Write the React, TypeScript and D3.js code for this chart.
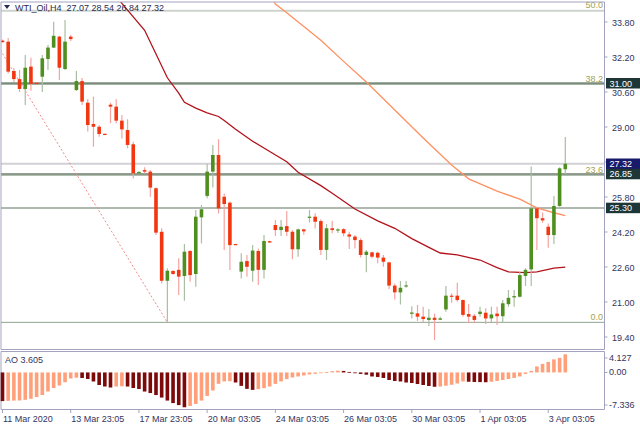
import React from 'react';
import * as d3 from 'd3';

const symbol = 'WTI_Oil,H4';
const opens = [32.95,32.90,31.56,31.19,30.74,31.76,31.02,31.30,32.11,32.63,33.13,31.65,33.13,30.69,31.10,30.11,29.14,29.01,28.69,30.02,
29.93,29.29,28.86,28.21,26.88,27.03,26.96,26.20,24.21,21.97,22.42,22.47,22.19,23.33,22.28,24.87,25.85,26.96,27.72,25.81,
25.54,23.65,22.39,22.87,22.43,23.33,22.47,23.78,24.52,24.29,24.47,24.21,23.41,24.32,24.85,24.90,24.70,23.38,24.37,24.28,
24.33,24.09,23.99,23.83,23.15,23.27,23.25,23.03,22.81,21.75,21.44,21.72,20.46,20.48,20.33,20.18,20.28,20.19,20.66,21.29,
21.29,21.09,20.45,20.37,20.45,20.51,20.25,20.47,20.35,20.90,21.21,21.24,22.19,22.49,25.28,24.83,24.44,24.06,25.39,27.07];
const highs = [33.00,33.07,31.70,31.61,32.29,32.17,31.05,32.29,32.75,33.81,33.17,33.89,33.21,31.56,31.24,30.28,30.39,29.09,28.70,30.11,
30.27,29.55,29.35,28.33,26.97,27.16,27.03,26.23,24.37,22.54,22.45,23.00,23.65,23.38,25.21,25.43,27.31,28.18,28.44,25.96,
25.59,23.66,23.23,23.15,23.61,23.45,24.06,23.80,24.75,24.75,25.16,24.29,24.35,24.35,25.21,25.06,24.78,24.57,24.71,24.37,
24.37,24.21,24.06,23.91,23.38,23.30,23.30,23.15,22.84,21.85,21.96,21.96,20.81,20.86,20.78,20.68,20.48,20.33,21.73,21.40,
21.88,21.12,20.91,20.45,20.78,20.71,20.78,20.78,21.09,21.55,21.55,22.38,22.54,27.19,25.36,25.09,24.59,25.85,27.16,28.54];
const lows = [32.85,31.45,31.06,30.60,30.01,30.66,30.96,30.60,31.61,32.61,31.15,31.61,32.93,30.65,30.01,28.79,28.10,28.56,28.66,29.17,
29.17,28.48,28.03,26.65,26.85,26.88,25.81,24.06,21.85,20.07,22.25,21.32,21.06,21.93,21.70,23.68,25.74,26.24,25.05,23.38,
22.46,23.62,22.08,22.16,21.93,21.78,22.08,23.70,24.02,24.02,24.02,22.95,23.07,24.08,24.63,24.36,23.15,22.92,24.14,24.16,
23.99,23.42,23.45,23.03,22.36,23.00,22.77,22.61,21.59,21.12,20.89,21.65,20.25,20.13,20.07,19.90,19.26,20.18,20.56,20.97,
21.01,20.33,20.03,20.03,20.33,19.99,20.03,19.95,20.05,20.78,20.78,21.21,21.73,21.73,23.38,24.62,23.48,23.65,25.36,26.84];
const closes = [32.88,31.53,31.19,30.74,31.71,30.97,30.99,32.14,32.63,33.17,31.71,32.90,33.02,31.10,30.16,29.09,29.01,28.68,28.67,29.93,
29.29,28.89,28.18,26.88,26.95,26.96,26.23,24.17,21.97,22.43,22.28,22.16,23.30,22.23,24.90,25.24,26.96,27.72,25.28,25.48,
23.60,23.64,22.84,22.61,23.35,22.47,23.79,23.72,24.29,24.44,24.21,23.41,24.32,24.23,24.90,24.67,23.38,24.37,24.29,24.32,
24.14,23.99,23.83,23.15,23.30,23.07,23.03,22.84,21.75,21.44,21.65,21.76,20.52,20.33,20.22,20.28,20.18,20.25,21.29,21.24,
21.09,20.41,20.33,20.18,20.56,20.25,20.43,20.35,20.94,21.19,21.27,22.23,22.47,25.28,24.83,24.73,24.06,25.39,27.11,27.32];

const aoValues = [-5.70,-5.65,-5.60,-5.58,-5.45,-5.25,-4.90,-4.50,-3.80,-3.10,-2.60,-1.95,-1.20,-1.05,-1.10,-1.30,-1.80,-2.50,-2.80,-3.00,
-2.80,-2.75,-2.80,-3.10,-3.30,-3.80,-4.10,-4.50,-5.00,-5.60,-6.10,-6.50,-6.93,-6.67,-6.27,-5.60,-4.67,-3.60,-2.27,-1.80,
-1.75,-2.00,-2.67,-3.27,-3.47,-3.33,-3.13,-2.80,-2.27,-1.80,-1.33,-1.00,-0.80,-0.60,-0.40,-0.27,-0.13,0.05,0.25,0.35,
0.30,0.10,-0.10,-0.30,-0.45,-0.80,-0.90,-1.10,-1.50,-1.70,-1.80,-2.00,-2.10,-2.30,-2.50,-2.70,-2.85,-2.80,-2.65,-2.45,
-2.20,-1.80,-1.85,-1.90,-1.92,-1.95,-1.85,-1.70,-1.50,-1.30,-1.10,-0.80,-0.30,0.30,1.20,1.70,2.10,2.60,2.90,3.605];

const timeTickIndex = [0, 12, 24, 36, 48, 60, 72, 84, 96];
const timeTickLabels = ['11 Mar 2020', '13 Mar 23:05', '17 Mar 23:05', '20 Mar 03:05', '24 Mar 03:05', '26 Mar 03:05', '30 Mar 03:05', '1 Apr 03:05', '3 Apr 03:05'];
const priceTicks = [33.8, 32.2, 30.6, 29.0, 27.4, 25.8, 24.2, 22.6, 21.0, 19.4];
const aoTicks = [4.127, 0, -7.336];
const aoTickLabels = ['4.127', '0.00', '-7.336'];

// dark red moving average (bar index, value)
const fastMaIdx = [19, 21, 25, 29, 31, 32, 34, 36, 38, 39, 41, 44, 47, 50, 52, 56, 58, 62, 66, 69, 72, 75, 77, 80, 84, 87, 89, 92, 94, 97, 99];
const fastMaVal = [35.30, 34.65, 33.42, 31.25, 30.55, 30.13, 29.86, 29.65, 29.48, 29.30, 28.90, 28.35, 27.88, 27.41, 26.93, 26.32, 25.97, 25.25, 24.71, 24.37, 23.90, 23.50, 23.24, 23.15, 22.92, 22.57, 22.38, 22.34, 22.38, 22.55, 22.59];
// orange moving average
const slowMaIdx = [47, 48, 50, 56, 60, 64, 69, 74, 79, 82, 87, 91, 94, 97, 99];
const slowMaVal = [35.13, 34.62, 34.22, 32.97, 32.00, 31.06, 29.78, 28.50, 27.26, 26.63, 26.07, 25.70, 25.30, 25.08, 24.95];

const fibHighIdx = -38.28;
const fibHigh = 48.57;
const fibLowIdx = 29;
const fibLow = 20.07;
const fibLevels = [0, 23.6, 38.2, 50.0];
const levelLines = [31.0, 26.85, 25.3];
const bidPrice = 27.32;

const W = 640;
const H = 427;
const AXIS_X = 604.5;
const P_TOP = 2;
const P_BOT = 349.5;
const A_TOP = 351.5;
const A_BOT = 409.5;
const FONT = '"Liberation Sans", Arial, sans-serif';
const TXT = '#34345e';

export default function App() {
  const x = d3.scaleLinear().domain([0, 99]).range([2.5, 565.3]);
  const y = d3.scaleLinear().domain([19.4, 33.8]).range([337, 22]);
  const ya = d3.scaleLinear().domain([-7.336, 4.127]).range([409.3, 351.7]);
  const bw = 3.6;

  const lineGen = d3.line<[number, number]>().x(d => x(d[0])).y(d => y(d[1]));
  const fastPath = lineGen(fastMaIdx.map((i, k) => [i, fastMaVal[k]] as [number, number])) || '';
  const slowPath = lineGen(slowMaIdx.map((i, k) => [i, slowMaVal[k]] as [number, number])) || '';
  const fibPath = lineGen([[fibHighIdx, fibHigh], [fibLowIdx, fibLow]]) || '';
  const fibPrice = (lv: number) => fibLow + (lv / 100) * (fibHigh - fibLow);

  const last = opens.length - 1;
  const title = `${symbol}  ${opens[last].toFixed(2)} ${highs[last].toFixed(2)} ${lows[last].toFixed(2)} ${closes[last].toFixed(2)}`;

  const boxes = [
    { p: 31.0, fill: '#1e3636' },
    { p: bidPrice, fill: '#1a1a6a' },
    { p: 26.85, fill: '#1e3636' },
    { p: 25.3, fill: '#1e3636' },
  ];
  const boxH = 10.5;
  // tick labels hidden behind a price box are not drawn (as in the reference)
  const visibleTicks = priceTicks.filter(p => !boxes.some(b => Math.abs(y(b.p) - y(p)) < 4));

  return (
    <svg width={W} height={H} style={{ position: 'absolute', left: 0, top: 0, background: '#fff' }} fontFamily={FONT}>
      <defs>
        <clipPath id="pclip">
          <rect x={1} y={P_TOP} width={AXIS_X - 1} height={P_BOT - P_TOP} />
        </clipPath>
      </defs>
      <rect x={0} y={0} width={W} height={H} fill="#fff" />

      <g clipPath="url(#pclip)">
        {fibLevels.map(lv => (
          <line key={'f' + lv} x1={0} x2={AXIS_X} y1={y(fibPrice(lv))} y2={y(fibPrice(lv))}
            stroke={lv === 50 ? '#cdd3cd' : '#8fa48f'} strokeWidth={lv === 50 ? 2 : 1} />
        ))}
        <line x1={0} x2={AXIS_X} y1={y(bidPrice)} y2={y(bidPrice)} stroke="#d2d2d6" strokeWidth={2} />
        {levelLines.map((p, k) => (
          <line key={'h' + p} x1={0} x2={AXIS_X} y1={y(p)} y2={y(p)}
            stroke={k === 0 ? '#7d8d7d' : k === 1 ? '#6f7f6f' : '#95a295'} strokeWidth={k === 0 ? 2.2 : 1.4} />
        ))}
        <path d={fibPath} stroke="#f08a8a" strokeWidth={1} strokeDasharray="2,2" fill="none" />
        <path d={slowPath} stroke="#ff9061" strokeWidth={1.3} fill="none" />
        <path d={fastPath} stroke="#b3121b" strokeWidth={1.3} fill="none" />
        {opens.map((o, i) => {
          const c = closes[i];
          const up = c >= o;
          const cx = x(i);
          const top = y(Math.max(o, c));
          const bot = y(Math.min(o, c));
          return (
            <g key={'c' + i}>
              <line x1={cx} x2={cx} y1={y(highs[i])} y2={y(lows[i])} stroke={up ? '#a9bea2' : '#f5a3a0'} strokeWidth={1.2} />
              <rect x={cx - bw / 2} y={top} width={bw} height={Math.max(1.2, bot - top)} fill={up ? '#4e8f1f' : '#f2360f'} />
            </g>
          );
        })}
      </g>

      <path d="M4,5 L10,5 L7,9 Z" fill="#2a2a50" />
      <text x={15} y={7.5} fontSize={9} fill="#2a2a50" dominantBaseline="central" style={{ whiteSpace: 'pre' }}>{title}</text>

      {fibLevels.map(lv => (
        <text key={'fl' + lv} x={603} y={y(fibPrice(lv)) - 5.5} fontSize={9} fill="#a3a255" textAnchor="end" dominantBaseline="central">{lv.toFixed(1)}</text>
      ))}

      <line x1={1} x2={1} y1={P_TOP} y2={P_BOT} stroke="#a3a3c0" />
      <line x1={1} x2={AXIS_X} y1={P_TOP} y2={P_TOP} stroke="#a3a3c0" />
      <line x1={1} x2={AXIS_X} y1={P_BOT} y2={P_BOT} stroke="#a3a3c0" />
      <line x1={AXIS_X} x2={AXIS_X} y1={P_TOP} y2={P_BOT} stroke="#a3a3c0" />
      <line x1={1} x2={1} y1={A_TOP} y2={A_BOT} stroke="#a3a3c0" />
      <line x1={1} x2={AXIS_X} y1={A_TOP} y2={A_TOP} stroke="#a3a3c0" />
      <line x1={1} x2={AXIS_X} y1={A_BOT} y2={A_BOT} stroke="#a3a3c0" />
      <line x1={AXIS_X} x2={AXIS_X} y1={A_TOP} y2={A_BOT} stroke="#a3a3c0" />

      {priceTicks.map(p => (
        <line key={'ptl' + p} x1={AXIS_X} x2={AXIS_X + 3} y1={y(p)} y2={y(p)} stroke="#a3a3c0" />
      ))}
      {visibleTicks.map(p => (
        <text key={'pt' + p} x={612} y={y(p) + 1} fontSize={9} fill={TXT} dominantBaseline="central">{p.toFixed(2)}</text>
      ))}
      {boxes.map(b => (
        <g key={'b' + b.p}>
          <rect x={606} y={y(b.p) - boxH / 2} width={34} height={boxH} fill={b.fill} />
          <text x={609.5} y={y(b.p) + 0.3} fontSize={9} fill="#ffffff" dominantBaseline="central">{b.p.toFixed(2)}</text>
        </g>
      ))}

      <text x={5} y={359.5} fontSize={9} fill={TXT} dominantBaseline="central">{`AO ${aoValues[last].toFixed(3)}`}</text>
      {aoValues.map((v, i) => {
        const up = i > 0 && v > aoValues[i - 1];
        const y0 = ya(0);
        const y1 = ya(v);
        return (
          <rect key={'a' + i} x={x(i) - bw / 2} y={Math.min(y0, y1)} width={bw} height={Math.max(0.8, Math.abs(y1 - y0))}
            fill={up ? '#ffa07a' : '#7c0a0a'} />
        );
      })}
      {aoTicks.map((t, k) => {
        const ty = k === 0 ? 358 : k === 2 ? 405 : ya(t);
        return (
          <g key={'at' + k}>
            <line x1={AXIS_X} x2={AXIS_X + 3} y1={ty} y2={ty} stroke="#a3a3c0" />
            <text x={609} y={ty} fontSize={9} fill={TXT} dominantBaseline="central">{aoTickLabels[k]}</text>
          </g>
        );
      })}

      {timeTickIndex.map((ti, k) => (
        <g key={'tt' + ti}>
          <line x1={x(ti)} x2={x(ti)} y1={A_BOT} y2={A_BOT + 3.5} stroke="#a3a3c0" />
          <text x={x(ti) + 0.5} y={419} fontSize={9} fill={TXT} dominantBaseline="central">{timeTickLabels[k]}</text>
        </g>
      ))}
    </svg>
  );
}
